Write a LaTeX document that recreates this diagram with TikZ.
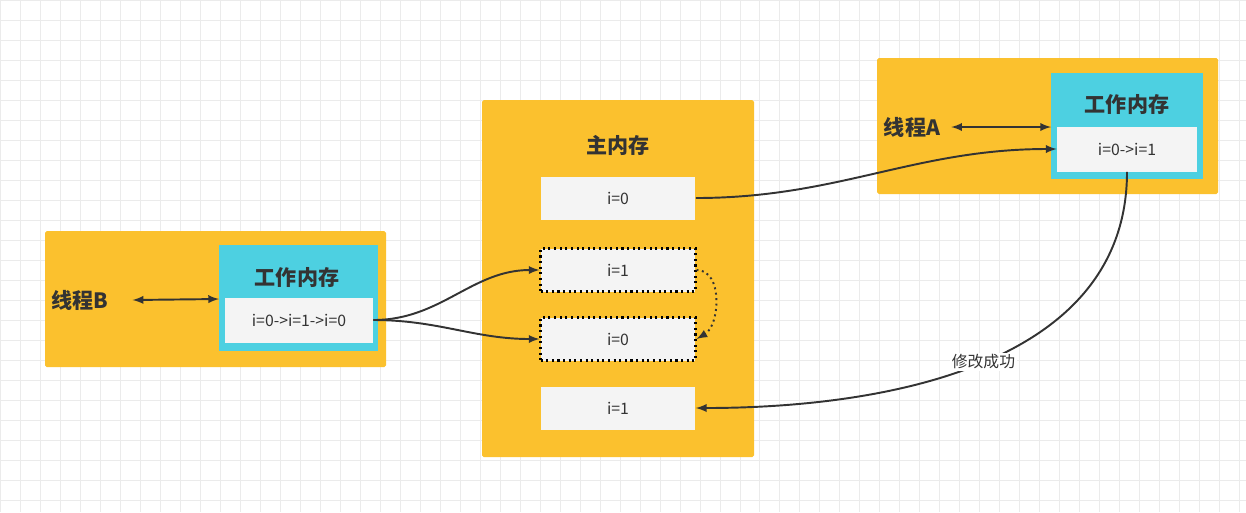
\documentclass[tikz,border=0pt]{standalone}
\usepackage{fontspec}
\setmainfont{Noto Sans CJK SC}
\usetikzlibrary{positioning}
\definecolor{boxorange}{HTML}{FBC12E}
\definecolor{boxcyan}{HTML}{4DD0E1}
\definecolor{cellgray}{HTML}{F4F4F4}
\definecolor{linegray}{HTML}{333333}
\begin{document}
\begin{tikzpicture}[x=0.02cm,y=-0.02cm,
        area/.style={fill=boxorange, draw=none, rounded corners=1pt},
        work/.style={fill=boxcyan, draw=none},
        cell/.style={fill=cellgray, draw=none, minimum width=3.1cm, minimum height=0.86cm, font=\small, text=linegray, inner sep=0pt},
        tmpcell/.style={cell, draw=black, dotted, line width=1.2pt},
        title/.style={font=\bfseries\large, text=linegray},
        link/.style={-latex, line width=1.1pt, draw=linegray},
        both/.style={latex-latex, line width=1.1pt, draw=linegray}
    ]
        \useasboundingbox (0,0) rectangle (1246,512);
        \draw[black!8, step=0.4cm] (0,0) grid (1246,512);

        % main memory
        \fill[area] (482,100) rectangle (754,457);
        \node[title] (main_title) at (618,145) {主内存};
        \node[cell] (main_a) at (618,198) {i=0};
        \node[tmpcell] (main_b) at (618,270) {i=1};
        \node[tmpcell] (main_c) at (618,339) {i=0};
        \node[cell] (main_d) at (618,408) {i=1};

        % thread A
        \fill[area] (877,58) rectangle (1218,194);
        \fill[work] (1051,73) rectangle (1203,179);
        \node[title] (threadA) at (912,127) {线程A};
        \node[title] (workA_title) at (1127,104) {工作内存};
        \node[cell, minimum width=2.8cm, minimum height=0.9cm] (workA) at (1127,149) {i=0->i=1};
        \coordinate (a_end) at (1051,127);

        % thread B
        \fill[area] (45,231) rectangle (386,367);
        \fill[work] (219,245) rectangle (378,351);
        \node[title] (threadB) at (80,300) {线程B};
        \node[title] (workB_title) at (297,277) {工作内存};
        \node[cell, minimum width=2.96cm, minimum height=0.9cm] (workB) at (299,320) {i=0->i=1->i=0};
        \coordinate (b_end) at (219,299);

        % links
        \draw[both] (threadA.east) ++(5,0) -- (a_end);
        \draw[both] (threadB.east) ++(18,0) -- (b_end);
        \draw[link] (main_a.east) to[out=0,in=180] (workA.west);
        \draw[link] (workA.south) to[out=-90,in=0] node[pos=0.5, fill=white, inner sep=1pt, font=\small, text=linegray] {修改成功} (main_d.east);
        \draw[link] (workB.east) to[out=0,in=180] (main_b.west);
        \draw[link] (workB.east) to[out=0,in=180] (main_c.west);
        \draw[link, dotted] (main_b.east) to[out=0,in=30] (main_c.east);
\end{tikzpicture}
\end{document}
